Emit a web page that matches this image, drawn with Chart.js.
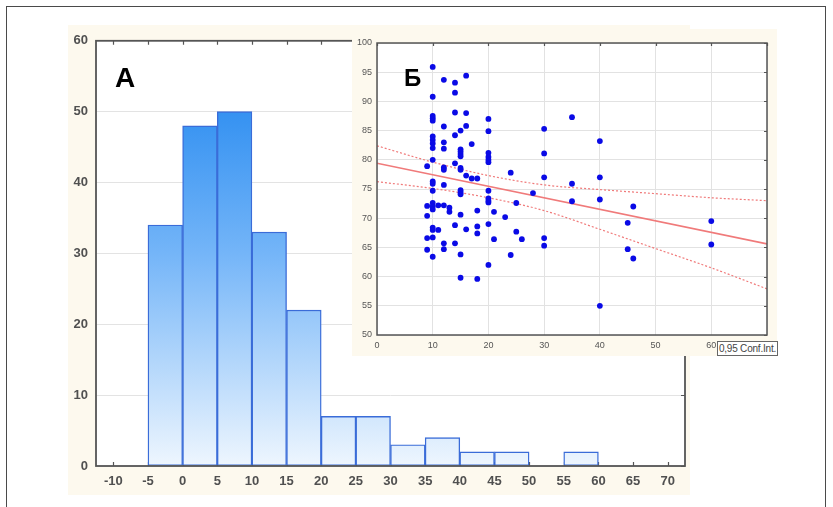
<!DOCTYPE html>
<html>
<head>
<meta charset="utf-8">
<script src="https://cdn.jsdelivr.net/npm/chart.js@4.4.1/dist/chart.umd.min.js"></script>
<style>
  html, body { margin: 0; padding: 0; background: #ffffff; width: 833px; height: 507px; overflow: hidden; }
  #frame { position: absolute; left: 6px; top: 6px; width: 818px; height: 520px; border: 1.5px solid #4a4a4a; }
  #histWrap { position: absolute; left: 68px; top: 25px; width: 622px; height: 470px; background: #fdf9ee; }
  #scatWrap { position: absolute; left: 352px; top: 29px; width: 425px; height: 327px; background: #fdf9ee; }
  .lbl { position: absolute; font-family: "Liberation Sans", Arial, sans-serif; color: #000; line-height: 1; font-weight: bold; }
  #legendBox { position: absolute; left: 717px; top: 341px; width: 59px; height: 13px; border: 1px solid #666; background: #fff;
    font-family: "Liberation Sans", Arial, sans-serif; font-size: 10px; color: #444; line-height: 13px; text-align: center; white-space: nowrap; letter-spacing: -0.2px; }
</style>
</head>
<body>
<div id="frame"></div>
<div id="histWrap"><canvas id="hist" width="622" height="470"></canvas></div>
<div id="scatWrap"><canvas id="scat" width="425" height="327"></canvas></div>
<div class="lbl" style="left:115px; top:64px; font-size:28px;">А</div>
<div class="lbl" style="left:404px; top:66px; font-size:24px;">Б</div>
<div id="legendBox">0,95 Conf.Int.</div>
<script>
// ---------- Histogram (A) ----------
const binStarts = [-5, 0, 5, 10, 15, 20, 25, 30, 35, 40, 45, 50, 55];
const binCounts = [34, 48, 50, 33, 22, 7, 7, 3, 4, 2, 2, 0, 2];
const binWidth = 5;
const histXTicks = [-10, -5, 0, 5, 10, 15, 20, 25, 30, 35, 40, 45, 50, 55, 60, 65, 70];
const histYTicks = [0, 10, 20, 30, 40, 50, 60];

// ---------- Scatter (Б) ----------
const scatXGroups = [9, 10, 11, 12, 13, 14, 15, 16, 17, 18, 20, 21, 23, 24, 25, 26, 28, 30, 35, 40, 45, 46, 60];
const scatYGroups = [
  [78.9, 72.1, 70.4, 66.6, 64.6],
  [95.9, 90.8, 87.5, 87.1, 86.7, 84.0, 83.4, 82.8, 82.0, 80.0, 76.3, 75.9, 74.7, 72.6, 72.0, 71.5, 68.4, 68.0, 66.7, 63.4],
  [72.2, 68.0],
  [93.7, 85.7, 83.0, 81.9, 78.7, 78.3, 75.7, 72.2, 65.7, 64.7],
  [71.8, 71.1],
  [93.2, 91.5, 88.1, 84.2, 79.4, 68.8, 65.7],
  [85.0, 81.8, 81.4, 81.0, 80.6, 78.6, 78.3, 74.8, 74.4, 74.1, 70.6, 63.8, 59.8],
  [94.4, 88.0, 85.8, 77.3, 68.1],
  [82.7, 76.8],
  [76.8, 71.3, 68.6, 67.4, 59.6],
  [87.0, 84.9, 81.2, 80.5, 80.0, 79.6, 74.7, 73.4, 73.0, 72.7, 69.0, 62.0],
  [71.1, 66.4],
  [70.2],
  [77.8, 63.7],
  [72.6, 67.7],
  [66.4],
  [74.3],
  [85.3, 81.1, 77.0, 66.6, 65.3],
  [87.3, 75.9, 72.9],
  [83.2, 77.0, 73.2, 55.0],
  [69.2, 64.7],
  [72.0, 63.1],
  [69.5, 65.5]
];
const fitX = [0, 70];
const fitY = [79.4, 65.6];
const ciX = [0, 10, 20, 30, 40, 50, 60, 70];
const ciUpper = [82.4, 79.6, 77.3, 75.7, 74.9, 74.2, 73.5, 73.0];
const ciLower = [76.25, 75.1, 73.5, 71.3, 68.1, 64.8, 61.5, 57.9];
const scatXTicks = [0, 10, 20, 30, 40, 50, 60, 70];
const scatYTicks = [50, 55, 60, 65, 70, 75, 80, 85, 90, 95, 100];

const FONT = '"Liberation Sans", Arial, sans-serif';

// plugin: white plot background, inward ticks, frame
const plotDeco = {
  id: 'plotDeco',
  beforeDraw(chart, args, o) {
    const { ctx, chartArea: a } = chart;
    ctx.save();
    ctx.fillStyle = '#ffffff';
    ctx.fillRect(a.left, a.top, a.width, a.height);
    ctx.restore();
  },
  beforeDatasetsDraw(chart, args, o) {
    const { ctx, chartArea: a, scales } = chart;
    const x = scales.x, y = scales.y;
    ctx.save();
    ctx.strokeStyle = o.tickColor;
    ctx.lineWidth = 1.2;
    ctx.beginPath();
    const L = o.len;
    x.ticks.forEach(t => {
      const px = Math.round(x.getPixelForValue(t.value)) + 0.5;
      if (o.sides.includes('top')) { ctx.moveTo(px, a.top); ctx.lineTo(px, a.top + L); }
      if (o.sides.includes('bottom')) { ctx.moveTo(px, a.bottom); ctx.lineTo(px, a.bottom - L); }
    });
    y.ticks.forEach(t => {
      const py = Math.round(y.getPixelForValue(t.value)) + 0.5;
      if (o.sides.includes('right')) { ctx.moveTo(a.right, py); ctx.lineTo(a.right - L, py); }
      if (o.sides.includes('left')) { ctx.moveTo(a.left, py); ctx.lineTo(a.left + L, py); }
    });
    ctx.stroke();
    ctx.restore();
  },
  afterDraw(chart, args, o) {
    const { ctx, chartArea: a } = chart;
    ctx.save();
    ctx.strokeStyle = o.frameColor;
    ctx.lineWidth = o.frameWidth;
    ctx.strokeRect(a.left, a.top, a.width, a.height);
    ctx.restore();
  }
};

let gradCache = null;
function barGradient(context) {
  const chart = context.chart;
  const a = chart.chartArea;
  if (!a) return '#5aa8f5';
  if (!gradCache || gradCache.top !== a.top || gradCache.bottom !== a.bottom) {
    const g = chart.ctx.createLinearGradient(0, a.top, 0, a.bottom);
    g.addColorStop(0, '#1580ee');
    g.addColorStop(0.5, '#74b5f8');
    g.addColorStop(1, '#eef6fe');
    gradCache = { top: a.top, bottom: a.bottom, g };
  }
  return gradCache.g;
}

new Chart(document.getElementById('hist'), {
  type: 'bar',
  data: {
    datasets: [{
      data: binStarts.map((s, i) => ({ x: s + binWidth / 2, y: binCounts[i] })),
      backgroundColor: barGradient,
      borderColor: '#3a6cd8',
      borderWidth: 1.4,
      borderSkipped: false,
      barPercentage: 1,
      categoryPercentage: 1
    }]
  },
  options: {
    responsive: false,
    animation: false,
    layout: { padding: { left: 0, top: 13, right: 5, bottom: 0 } },
    plugins: {
      legend: { display: false },
      tooltip: { enabled: false },
      plotDeco: { tickColor: '#555', len: 4, sides: ['top', 'bottom', 'right'], frameColor: '#555', frameWidth: 1.8 }
    },
    scales: {
      x: {
        type: 'linear', min: -12.5, max: 72.5, offset: false,
        afterBuildTicks: s => { s.ticks = histXTicks.map(v => ({ value: v })); },
        grid: { display: false, drawTicks: false },
        border: { display: false },
        ticks: { padding: 8, font: { family: FONT, size: 13, weight: 'bold' }, color: '#505050', autoSkip: false, maxRotation: 0 },
        afterFit: s => { s.height = 29; }
      },
      y: {
        type: 'linear', min: 0, max: 60,
        afterBuildTicks: s => { s.ticks = histYTicks.map(v => ({ value: v })); },
        grid: { color: '#e3e3e3', lineWidth: 1, drawTicks: false },
        border: { display: false },
        ticks: { padding: 8, font: { family: FONT, size: 13, weight: 'bold' }, color: '#505050' },
        afterFit: s => { s.width = 28; }
      }
    }
  },
  plugins: [plotDeco]
});

const scatPoints = [];
scatXGroups.forEach((xv, i) => scatYGroups[i].forEach(yv => scatPoints.push({ x: xv, y: yv })));

new Chart(document.getElementById('scat'), {
  type: 'scatter',
  data: {
    datasets: [
      { data: scatPoints, pointRadius: 2.9, pointBackgroundColor: '#0a0ae6', pointBorderWidth: 0, order: 0 },
      { data: fitX.map((v, i) => ({ x: v, y: fitY[i] })), showLine: true, pointRadius: 0, borderColor: '#f07a7a', borderWidth: 1.6, order: 1 },
      { data: ciX.map((v, i) => ({ x: v, y: ciUpper[i] })), showLine: true, pointRadius: 0, borderColor: '#f07a7a', borderWidth: 1.2, borderDash: [2, 2], cubicInterpolationMode: 'monotone', order: 1 },
      { data: ciX.map((v, i) => ({ x: v, y: ciLower[i] })), showLine: true, pointRadius: 0, borderColor: '#f07a7a', borderWidth: 1.2, borderDash: [2, 2], cubicInterpolationMode: 'monotone', order: 1 }
    ]
  },
  options: {
    responsive: false,
    animation: false,
    layout: { padding: { left: 0, top: 14, right: 10, bottom: 0 } },
    plugins: {
      legend: { display: false },
      tooltip: { enabled: false },
      plotDeco: { tickColor: '#555', len: 3, sides: ['top', 'right'], frameColor: '#555', frameWidth: 1.5 }
    },
    scales: {
      x: {
        type: 'linear', min: 0, max: 70,
        afterBuildTicks: s => { s.ticks = scatXTicks.map(v => ({ value: v })); },
        grid: { color: '#e2e2e2', lineWidth: 1, drawTicks: false },
        border: { display: false },
        ticks: { padding: 5, font: { family: FONT, size: 9 }, color: '#555',
          callback: v => (v === 70 ? '' : v) },
        afterFit: s => { s.height = 21; }
      },
      y: {
        type: 'linear', min: 50, max: 100,
        afterBuildTicks: s => { s.ticks = scatYTicks.map(v => ({ value: v })); },
        grid: { color: '#e2e2e2', lineWidth: 1, drawTicks: false },
        border: { display: false },
        ticks: { padding: 5, font: { family: FONT, size: 9 }, color: '#555' },
        afterFit: s => { s.width = 25; }
      }
    }
  },
  plugins: [plotDeco]
});
</script>
</body>
</html>
